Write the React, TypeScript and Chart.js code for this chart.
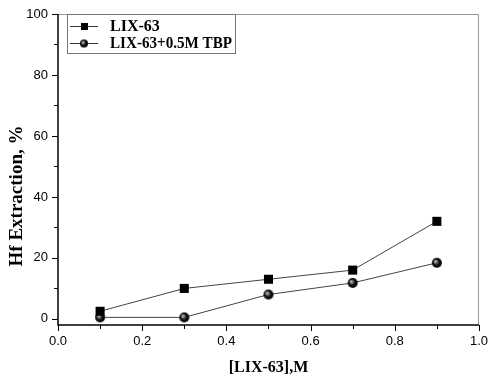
import React, { useEffect, useRef } from "react";
import { Chart, registerables } from "chart.js";

Chart.register(...registerables);

const xValues = [0.1, 0.3, 0.5, 0.7, 0.9];
const lix63 = [2.5, 10, 13, 16, 32];
const lix63Tbp = [0.5, 0.5, 8, 11.8, 18.4];
const seriesNames = ["LIX-63", "LIX-63+0.5M TBP"];
const xTitle = "[LIX-63],M";
const yTitle = "Hf Extraction, %";

function makeSphere(r: number): HTMLCanvasElement {
  const c = document.createElement("canvas");
  const s = r * 2 + 2;
  c.width = s;
  c.height = s;
  const ctx = c.getContext("2d")!;
  const cx = s / 2;
  const g = ctx.createRadialGradient(cx - r * 0.35, cx - r * 0.35, 0, cx, cx, r);
  g.addColorStop(0, "#d8d8d8");
  g.addColorStop(0.3, "#777");
  g.addColorStop(0.6, "#111");
  g.addColorStop(1, "#000");
  ctx.beginPath();
  ctx.arc(cx, cx, r, 0, Math.PI * 2);
  ctx.fillStyle = g;
  ctx.fill();
  return c;
}

const serif = "'Liberation Serif', 'Times New Roman', serif";
const sans = "'Liberation Sans', Arial, sans-serif";

export default function App() {
  const ref = useRef<HTMLCanvasElement>(null);
  useEffect(() => {
    const sphere = makeSphere(5);
    const legendSphere = makeSphere(4);
    const framePlugin = {
      id: "frame",
      afterDraw(chart: any) {
        const { ctx, chartArea: a, scales } = chart;
        const xs = scales.x;
        const ys = scales.y;
        ctx.save();
        ctx.strokeStyle = "#999";
        ctx.lineWidth = 1;
        ctx.beginPath();
        ctx.moveTo(a.left, a.top + 0.5);
        ctx.lineTo(a.right - 0.5, a.top + 0.5);
        ctx.lineTo(a.right - 0.5, a.bottom);
        ctx.stroke();
        ctx.strokeStyle = "#000";
        ctx.lineWidth = 1.5;
        ctx.beginPath();
        ctx.moveTo(a.left, a.top);
        ctx.lineTo(a.left, a.bottom);
        ctx.lineTo(a.right, a.bottom);
        ctx.stroke();
        ctx.lineWidth = 1;
        ctx.beginPath();
        for (let i = 0; i <= 10; i++) {
          const v = i / 10;
          const px = Math.round(xs.getPixelForValue(v)) + 0.5;
          const len = i % 2 === 0 ? 6 : 4;
          ctx.moveTo(px, a.bottom);
          ctx.lineTo(px, a.bottom + len);
        }
        for (let i = 0; i <= 10; i++) {
          const v = i * 10;
          const py = Math.round(ys.getPixelForValue(v)) + 0.5;
          const len = i % 2 === 0 ? 6 : 4;
          ctx.moveTo(a.left, py);
          ctx.lineTo(a.left - len, py);
        }
        ctx.stroke();
        // y title
        ctx.save();
        ctx.translate(17, 196);
        ctx.rotate(-Math.PI / 2);
        ctx.fillStyle = "#000";
        ctx.font = `bold 19px ${serif}`;
        ctx.textAlign = "center";
        ctx.textBaseline = "middle";
        ctx.fillText(yTitle, 0, 0, 146);
        ctx.restore();
        // legend
        const bx = 67.5, by = 14.5, bw = 168, bh = 39;
        ctx.fillStyle = "#fff";
        ctx.fillRect(bx, by, bw, bh);
        ctx.strokeStyle = "#777";
        ctx.strokeRect(bx, by, bw, bh);
        const rows = [26, 43];
        const widths = [53, 122];
        rows.forEach((y, i) => {
          ctx.strokeStyle = "#333";
          ctx.lineWidth = 1;
          ctx.beginPath();
          ctx.moveTo(70, y + 0.5);
          ctx.lineTo(98, y + 0.5);
          ctx.stroke();
          if (i === 0) {
            ctx.fillStyle = "#000";
            ctx.fillRect(81, y - 3, 7, 7);
          } else {
            ctx.drawImage(legendSphere, 84 - legendSphere.width / 2, y - legendSphere.height / 2 + 0.5);
          }
          ctx.fillStyle = "#000";
          ctx.font = `bold 16px ${serif}`;
          ctx.textBaseline = "middle";
          ctx.textAlign = "left";
          ctx.fillText(seriesNames[i], 110, y + 1, widths[i]);
        });
        ctx.restore();
      },
    };
    const chart = new Chart(ref.current!, {
      type: "scatter",
      data: {
        datasets: [
          {
            label: seriesNames[0],
            data: xValues.map((x, i) => ({ x, y: lix63[i] })),
            showLine: true,
            borderColor: "#444",
            borderWidth: 1,
            pointStyle: "rect",
            pointRadius: 6.4,
            pointBackgroundColor: "#000",
            pointBorderColor: "#000",
            pointBorderWidth: 0,
          },
          {
            label: seriesNames[1],
            data: xValues.map((x, i) => ({ x, y: lix63Tbp[i] })),
            showLine: true,
            borderColor: "#444",
            borderWidth: 1,
            pointStyle: sphere as any,
            pointRadius: 5,
          },
        ],
      },
      options: {
        animation: false,
        responsive: false,
        maintainAspectRatio: false,
        layout: { padding: { top: 14, right: 8, left: 0, bottom: 0 } },
        plugins: { legend: { display: false }, tooltip: { enabled: false } },
        scales: {
          x: {
            type: "linear",
            min: 0,
            max: 1,
            afterFit: (s: any) => { s.height = 52; },
            ticks: {
              stepSize: 0.2,
              color: "#000",
              font: { family: sans, size: 13 },
              padding: 3,
              callback: (v: any) => Number(v).toFixed(1),
            },
            grid: { display: true, drawOnChartArea: false, tickLength: 6, color: "rgba(0,0,0,0)" },
            border: { display: false },
            title: {
              display: true,
              text: xTitle,
              color: "#000",
              font: { family: serif, size: 16, weight: "bold" },
              padding: { top: 5, bottom: 0 },
            },
          },
          y: {
            type: "linear",
            min: -2,
            max: 100,
            afterFit: (s: any) => { s.width = 58; },
            afterBuildTicks: (s: any) => {
              const t = [];
              for (let v = 0; v <= 100; v += 20) t.push({ value: v });
              s.ticks = t;
            },
            ticks: {
              color: "#000",
              font: { family: sans, size: 13 },
              padding: 4,
            },
            grid: { display: true, drawOnChartArea: false, tickLength: 6, color: "rgba(0,0,0,0)" },
            border: { display: false },
            title: { display: false },
          },
        },
      },
      plugins: [framePlugin],
    });
    return () => chart.destroy();
  }, []);
  return (
    <div style={{ position: "absolute", left: 0, top: 0, width: 491, height: 377, background: "#fff" }}>
      <canvas ref={ref} width={491} height={377} style={{ display: "block" }} />
    </div>
  );
}
